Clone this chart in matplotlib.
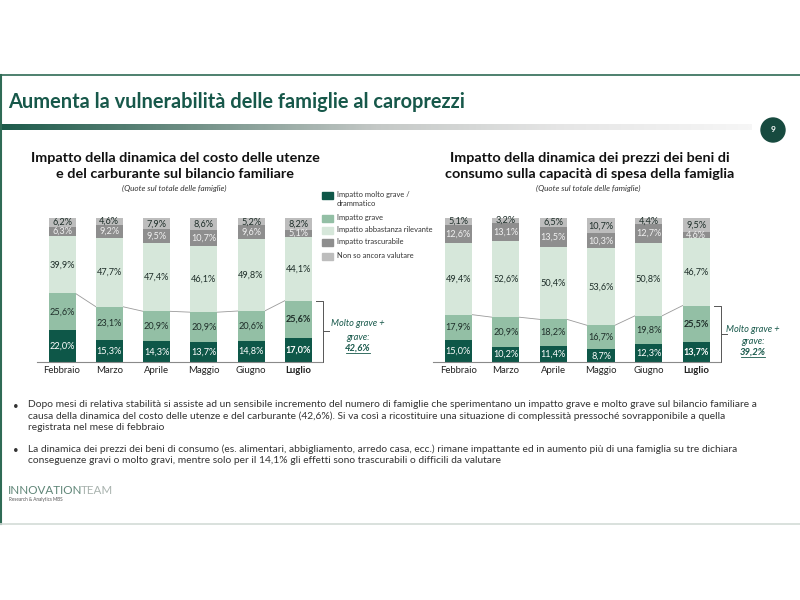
import matplotlib
matplotlib.use('Agg')
import matplotlib.pyplot as plt
import numpy as np
from matplotlib.colors import LinearSegmentedColormap
from matplotlib.patches import Rectangle, Circle

plt.rcParams['font.family'] = ['Lato', 'DejaVu Sans']

months = ['Febbraio', 'Marzo', 'Aprile', 'Maggio', 'Giugno', 'Luglio']
series_names = ['Impatto molto grave /\ndrammatico', 'Impatto grave',
                'Impatto abbastanza rilevante', 'Impatto trascurabile',
                'Non so ancora valutare']
colors = ['#0e5748', '#93bfa5', '#d6e7da', '#8e8e8e', '#bdbdbd']
label_colors = ['white', '#1f2f2a', '#1f2f2a', '#f0f0f0', '#1f2f2a']

# utenze e carburante
left_data = [
    [22.0, 15.3, 14.3, 13.7, 14.8, 17.0],
    [25.6, 23.1, 20.9, 20.9, 20.6, 25.6],
    [39.9, 47.7, 47.4, 46.1, 49.8, 44.1],
    [6.3, 9.2, 9.5, 10.7, 9.6, 5.1],
    [6.2, 4.6, 7.9, 8.6, 5.2, 8.2],
]
# beni di consumo
right_data = [
    [15.0, 10.2, 11.4, 8.7, 12.3, 13.7],
    [17.9, 20.9, 18.2, 16.7, 19.8, 25.5],
    [49.4, 52.6, 50.4, 53.6, 50.8, 46.7],
    [12.6, 13.1, 13.5, 10.3, 12.7, 4.6],
    [5.1, 3.2, 6.5, 10.7, 4.4, 9.5],
]
left_total = '42,6%'
right_total = '39,2%'

DARK = '#17584a'

fig = plt.figure(figsize=(8, 6), dpi=100)

# slide background / decorations in pixel coords
bg = fig.add_axes([0, 0, 1, 1])
bg.set_axis_off()
grad = np.linspace(0, 1, 300).reshape(1, -1)
cmap = LinearSegmentedColormap.from_list('g', ['#1d5b4b', '#6f8f85', '#c4c8c6', '#e6e6e6', '#f6f6f6'])
bg.imshow(grad, extent=(0, 752, 130, 124), aspect='auto', cmap=cmap)
bg.set_xlim(0, 800)
bg.set_ylim(600, 0)
bg.plot([0, 800], [74.5, 74.5], color='#2f6b55', lw=1.2)
bg.plot([1, 1], [74.5, 524], color='#2f6b55', lw=1.5)
bg.plot([0, 800], [524, 524], color='#d3dbd7', lw=1.2)
bg.text(8, 102, 'Aumenta la vulnerabilità delle famiglie al caroprezzi',
        fontsize=14.4, fontweight='bold', color=DARK, va='center', ha='left')
bg.add_patch(Circle((773, 130), 12, color='#174a3f'))
bg.text(773, 130, '9', color='white', fontsize=6, fontweight='bold', ha='center', va='center')

# chart titles
bg.text(175, 166, 'Impatto della dinamica del costo delle utenze\ne del carburante sul bilancio familiare',
        fontsize=10.4, fontweight='bold', ha='center', va='center', color='#111111', linespacing=1.3)
bg.text(174, 188, '(Quote sul totale delle famiglie)', fontsize=5.9, style='italic',
        ha='center', va='center', color='#333333')
bg.text(590, 166, 'Impatto della dinamica dei prezzi dei beni di\nconsumo sulla capacità di spesa della famiglia',
        fontsize=10.4, fontweight='bold', ha='center', va='center', color='#111111', linespacing=1.3)
bg.text(588, 188, '(Quote sul totale delle famiglie)', fontsize=5.9, style='italic',
        ha='center', va='center', color='#333333')

# legend
leg_y = [195, 218, 230, 242, 256]
for c, name, y in zip(colors, series_names, leg_y):
    bg.add_patch(Rectangle((322, y - 3.5), 11, 7, color=c))
    bg.text(337, y - 0.5 if '\n' not in name else y + 4, name, fontsize=5.4, va='center', ha='left',
            color='#333333', linespacing=1.25)

# bullets
b1 = ('Dopo mesi di relativa stabilità si assiste ad un sensibile incremento del numero di famiglie che sperimentano un impatto grave e molto grave sul bilancio familiare a\n'
      'causa della dinamica del costo delle utenze e del carburante (42,6%). Si va così a ricostituire una situazione di complessità pressoché sovrapponibile a quella\n'
      'registrata nel mese di febbraio')
b2 = ('La dinamica dei prezzi dei beni di consumo (es. alimentari, abbigliamento, arredo casa, ecc.) rimane impattante ed in aumento più di una famiglia su tre dichiara\n'
      'conseguenze gravi o molto gravi, mentre solo per il 14,1% gli effetti sono trascurabili o difficili da valutare')
bg.text(13, 406, '•', fontsize=7, va='center', color='#333333')
bg.text(28, 400, b1, fontsize=7.4, va='top', ha='left', color='#333333', linespacing=1.3)
bg.text(13, 450, '•', fontsize=7, va='center', color='#333333')
bg.text(28, 444, b2, fontsize=7.4, va='top', ha='left', color='#333333', linespacing=1.3)

# logo
bg.text(8, 490, 'INNOVATION', fontsize=8.4, color='#5f8577', va='center', ha='left')
bg.text(81, 490, 'TEAM', fontsize=8.4, color='#a9b3af', va='center', ha='left')
bg.text(9, 499.5, 'Research & Analytics MBS', fontsize=3.3, color='#555555', va='center', ha='left')


def stacked(rect, data):
    ax = fig.add_axes(rect)
    ax.patch.set_alpha(0)
    x = np.arange(len(months))
    w = 0.57
    bottom = np.zeros(len(months))
    for i, vals in enumerate(data):
        vals = np.array(vals)
        ax.bar(x, vals, w, bottom=bottom, color=colors[i], zorder=2)
        for j, v in enumerate(vals):
            bold = (j == len(months) - 1 and i < 2)
            ax.text(x[j], bottom[j] + v / 2, f'{v:.1f}%'.replace('.', ','),
                    ha='center', va='center', fontsize=6.6, color=label_colors[i],
                    fontweight='bold' if bold else 'normal', zorder=3)
        bottom = bottom + vals
    # series lines on grave top
    cum = np.array(data[0]) + np.array(data[1])
    for j in range(len(months) - 1):
        ax.plot([x[j] + w / 2, x[j + 1] - w / 2], [cum[j], cum[j + 1]],
                color='#9a9a9a', lw=0.6, zorder=1)
    ax.set_xlim(-0.53, 5.5)
    ax.set_ylim(0, 100)
    ax.set_xticks(x)
    ax.set_xticklabels(months, fontsize=6.9, color='#222222')
    ax.get_xticklabels()[-1].set_fontweight('bold')
    ax.tick_params(axis='x', length=0, pad=3)
    ax.set_yticks([])
    for s in ['top', 'right', 'left']:
        ax.spines[s].set_visible(False)
    ax.spines['bottom'].set_color('#8a8a8a')
    ax.spines['bottom'].set_linewidth(0.8)
    # bracket
    bx = x[-1] + w / 2 + 0.24
    ax.plot([x[-1] + w / 2 + 0.08, bx, bx, x[-1] + w / 2 + 0.08], [cum[-1], cum[-1], 0, 0],
            color='#555555', lw=0.7, clip_on=False)
    ax.plot([bx, bx + 0.12], [cum[-1] / 2, cum[-1] / 2], color='#555555', lw=0.7, clip_on=False)
    return ax


axl = stacked([37 / 800, 238 / 600, 285 / 800, 144 / 600], left_data)
axr = stacked([433 / 800, 238 / 600, 287 / 800, 144 / 600], right_data)

for cx, ys, tot in [(358, (323, 337, 348), left_total), (753, (330, 341, 352), right_total)]:
    bg.text(cx, ys[0], 'Molto grave +', fontsize=6.7, style='italic', color=DARK, ha='center', va='center')
    bg.text(cx, ys[1], 'grave:', fontsize=6.7, style='italic', color=DARK, ha='center', va='center')
    bg.text(cx, ys[2], tot, fontsize=6.8, style='italic', fontweight='bold', color=DARK,
            ha='center', va='center')
    bg.plot([cx - 12, cx + 12], [ys[2] + 5, ys[2] + 5], color=DARK, lw=0.6)

fig.savefig('out.png', dpi=100)
